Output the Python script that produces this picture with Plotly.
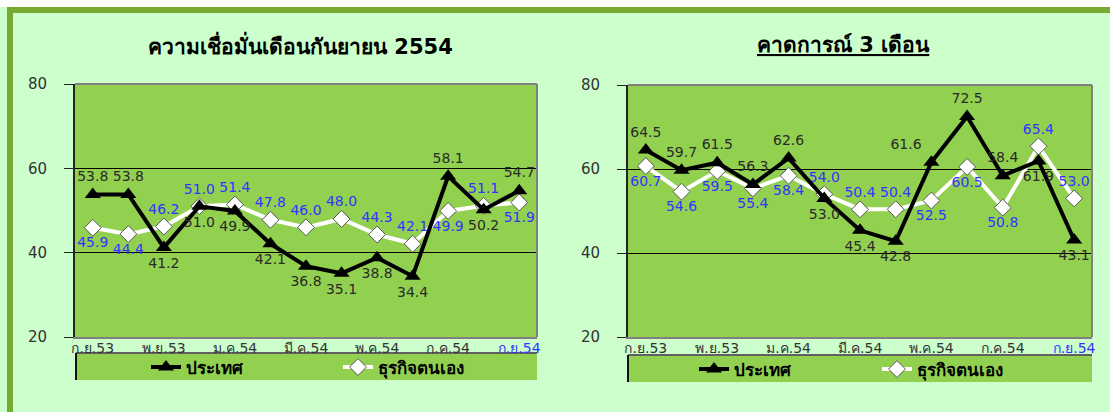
import plotly.graph_objects as go

months = ["ก.ย.53", "ต.ค.53", "พ.ย.53", "ธ.ค.53", "ม.ค.54", "ก.พ.54", "มี.ค.54",
          "เม.ย.54", "พ.ค.54", "มิ.ย.54", "ก.ค.54", "ส.ค.54", "ก.ย.54"]
tick_months = months[::2]
tick_text = ["ก.ย.53", "พ.ย.53", "ม.ค.54", "มี.ค.54", "พ.ค.54", "ก.ค.54",
             "<span style='color:#3333FF'>ก.ย.54</span>"]

# Left panel: confidence, September 2554
now_country = [53.8, 53.8, 41.2, 51.0, 49.9, 42.1, 36.8, 35.1, 38.8, 34.4, 58.1, 50.2, 54.7]
now_business = [45.9, 44.4, 46.2, 51.0, 51.4, 47.8, 46.0, 48.0, 44.3, 42.1, 49.9, 51.1, 51.9]
# Right panel: 3-month outlook
fc_country = [64.5, 59.7, 61.5, 56.3, 62.6, 53.0, 45.4, 42.8, 61.6, 72.5, 58.4, 61.9, 43.1]
fc_business = [60.7, 54.6, 59.5, 55.4, 58.4, 54.0, 50.4, 50.4, 52.5, 60.5, 50.8, 65.4, 53.0]

series_names = ["<b>ประเทศ</b>", "<b>ธุรกิจตนเอง</b>"]
titles = ["<b>ความเชื่อมั่นเดือนกันยายน 2554</b>", "<b><u>คาดการณ์ 3 เดือน</u></b>"]

T, B = "top center", "bottom center"
pos_now_country = [T, T, B, B, B, B, B, B, B, B, T, B, T]
pos_now_business = [B, B, T, T, T, T, T, T, T, T, B, T, B]
pos_fc_country = [T, T, T, T, T, B, B, B, "top left", T, T, B, B]
pos_fc_business = [B, B, B, B, B, T, T, T, B, B, B, T, T]

W, H = 1110, 412
FONT = "Tahoma, 'DejaVu Sans', 'Noto Sans', sans-serif"
BG = "#CCFFCC"
PLOT = "#92D050"
OLIVE = "#78AB32"

def px(x):
    return x / W

def py(y):
    return 1 - y / H

panels = [
    dict(x0=75, x1=537, y0=84, y1=337, leg=(76, 537, 353, 380), legx=146, legw=147, title_x=300),
    dict(x0=628, x1=1092, y0=85, y1=337, leg=(628, 1092, 355, 382), legx=694, legw=138, title_x=843),
]

fig = go.Figure()
data = [(now_country, now_business, pos_now_country, pos_now_business),
        (fc_country, fc_business, pos_fc_country, pos_fc_business)]

for i, (c, b, pc, pb) in enumerate(data):
    xa = "x" if i == 0 else "x2"
    ya = "y" if i == 0 else "y2"
    leg = "legend" if i == 0 else "legend2"
    fig.add_trace(go.Scatter(
        x=months, y=b, xaxis=xa, yaxis=ya, name=series_names[1], legend=leg,
        mode="lines+markers+text", text=[f"{v:.1f}" for v in b], textposition=pb,
        textfont=dict(color="#3333FF", size=14, family=FONT),
        line=dict(color="white", width=4),
        marker=dict(symbol="diamond", size=13, color="white", line=dict(color="#555555", width=1)),
        legendrank=2, cliponaxis=False,
    ))
    fig.add_trace(go.Scatter(
        x=months, y=c, xaxis=xa, yaxis=ya, name=series_names[0], legend=leg,
        mode="lines+markers+text", text=[f"{v:.1f}" for v in c], textposition=pc,
        textfont=dict(color="#2a2a2a", size=14, family=FONT),
        line=dict(color="black", width=4),
        marker=dict(symbol="triangle-up", size=14, color="black"),
        legendrank=1, cliponaxis=False,
    ))

shapes = [
    dict(type="rect", xref="paper", yref="paper", x0=0, x1=1, y0=py(7), y1=1,
         fillcolor="white", line_width=0, layer="below"),
    dict(type="rect", xref="paper", yref="paper", x0=px(7), x1=1, y0=py(13), y1=py(7),
         fillcolor=OLIVE, line_width=0, layer="below"),
    dict(type="rect", xref="paper", yref="paper", x0=px(7), x1=px(13), y0=0, y1=py(7),
         fillcolor=OLIVE, line_width=0, layer="below"),
]
annotations = []
for i, p in enumerate(panels):
    shapes.append(dict(type="line", xref="paper", yref="paper", x0=px(p["x0"]), x1=px(p["x1"]),
                       y0=py(p["y0"]), y1=py(p["y0"]), line=dict(color="#808080", width=2), layer="above"))
    shapes.append(dict(type="line", xref="paper", yref="paper", x0=px(p["x1"]), x1=px(p["x1"]),
                       y0=py(p["y1"]), y1=py(p["y0"]), line=dict(color="#808080", width=2), layer="above"))
    lx0, lx1, ly0, ly1 = p["leg"]
    shapes.append(dict(type="rect", xref="paper", yref="paper", x0=px(lx0), x1=px(lx1),
                       y0=py(ly1), y1=py(ly0), fillcolor=PLOT, line_width=0, layer="below"))
    shapes.append(dict(type="line", xref="paper", yref="paper", x0=px(lx0), x1=px(lx1),
                       y0=py(ly0), y1=py(ly0), line=dict(color="#606060", width=2), layer="below"))
    shapes.append(dict(type="line", xref="paper", yref="paper", x0=px(lx0), x1=px(lx0),
                       y0=py(ly1), y1=py(ly0), line=dict(color="#111111", width=2), layer="below"))
    annotations.append(dict(text=titles[i], xref="paper", yref="paper", x=px(p["title_x"]), y=py(45),
                            xanchor="center", yanchor="middle", showarrow=False,
                            font=dict(size=21, color="black", family=FONT)))

layout = dict(
    width=W, height=H, autosize=False, margin=dict(l=0, r=0, t=0, b=0, autoexpand=False),
    paper_bgcolor=BG, plot_bgcolor=PLOT,
    font=dict(family=FONT, color="#333333", size=14),
    shapes=shapes, annotations=annotations, showlegend=True,
)
for i, p in enumerate(panels):
    sfx = "" if i == 0 else "2"
    layout["xaxis" + sfx] = dict(
        domain=[px(p["x0"]), px(p["x1"])], anchor="y" + sfx, type="category",
        categoryorder="array", categoryarray=months,
        range=[-0.5, 12.5], tickmode="array", tickvals=tick_months, ticktext=tick_text,
        showgrid=False, zeroline=False, showline=True, linecolor="#808080", linewidth=2,
        ticks="", ticklabelstandoff=-3, tickfont=dict(size=14, color="#333333", family=FONT),
        fixedrange=True, automargin=False,
    )
    layout["yaxis" + sfx] = dict(
        domain=[py(p["y1"]), py(p["y0"])], anchor="x" + sfx, range=[20, 80],
        tickvals=[20, 40, 60, 80], showgrid=True, gridcolor="black", gridwidth=1,
        zeroline=False, showline=True, linecolor="#222222", linewidth=2,
        ticks="outside", ticklen=9, tickcolor="#222222", ticklabelstandoff=14,
        tickfont=dict(size=15, color="#333333", family=FONT),
        fixedrange=True, automargin=False,
    )
    leg = "legend" if i == 0 else "legend2"
    layout[leg] = dict(
        orientation="h", x=px(p["legx"]), y=py((p["leg"][2] + p["leg"][3]) / 2 + 1),
        xanchor="left", yanchor="middle", bgcolor="rgba(0,0,0,0)",
        font=dict(size=17, color="black", family=FONT),
        entrywidth=p["legw"], entrywidthmode="pixels", traceorder="normal",
        itemclick=False, itemdoubleclick=False,
    )

fig.update_layout(**layout)

post = """
document.documentElement.style.margin='0';
document.body.style.margin='0';
document.body.style.overflow='hidden';
"""

fig.write_html("out.html", post_script=post, config={"displayModeBar": False})
